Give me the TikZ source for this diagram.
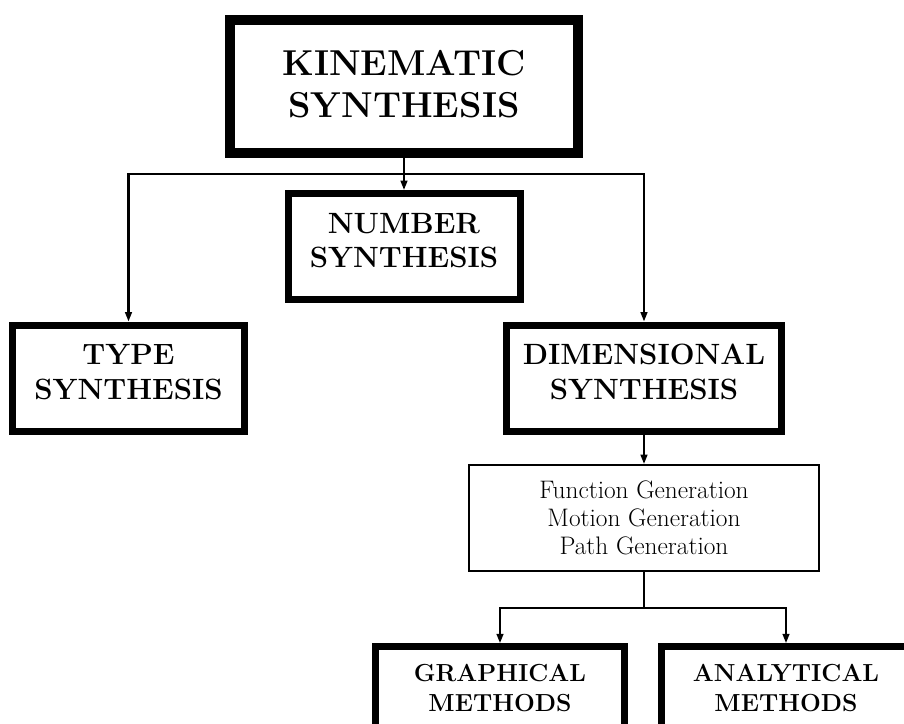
\documentclass[tikz,border=0pt]{standalone}
\usepackage{fontspec}
\usepackage{tikz}
\usetikzlibrary{arrows.meta, positioning, calc}

\begin{document}
\begin{tikzpicture}[
    x=0.75pt,
    y=-0.75pt,
    heading/.style={
      draw=black,
      line width=7.5pt,
      fill=white,
      align=center,
      minimum width=261pt,
      minimum height=99.75pt,
      text depth=4pt,
      font=\bfseries\fontsize{27}{32}\selectfont,
    },
    branch/.style={
      draw=black,
      line width=5.25pt,
      fill=white,
      align=center,
      minimum height=79.5pt,
      text depth=9pt,
      font=\bfseries\fontsize{22}{26}\selectfont,
    },
    listbox/.style={
      draw=black,
      line width=1.5pt,
      fill=white,
      align=center,
      minimum width=262.5pt,
      minimum height=79.5pt,
      font=\fontsize{19}{21}\selectfont,
    },
    method/.style={
      branch,
      minimum width=187pt,
      minimum height=62pt,
      text depth=0pt,
      font=\bfseries\fontsize{18.5}{22.5}\selectfont,
    },
    link/.style={
      line width=1.6pt,
      -{Triangle[length=7pt,width=5pt]},
    },
  ]
    \useasboundingbox (0,0) rectangle (904,724);
    \clip (0,0) rectangle (904,724);
    \fill[white] (0,0) rectangle (904,724);

    \node[heading] (kin) at (404,86.5) {KINEMATIC\\SYNTHESIS};
    \node[branch, minimum width=174pt] (num) at (404,246.5) {NUMBER\\SYNTHESIS};
    \node[branch, minimum width=174pt] (type) at (128.5,378) {TYPE\\SYNTHESIS};
    \node[branch, minimum width=206pt] (dim) at (644,378) {DIMENSIONAL\\SYNTHESIS};
    \node[listbox] (gen) at (644,518) {Function Generation\\Motion Generation\\Path Generation};
    \node[method] (graph) at (500,688) {GRAPHICAL\\METHODS};
    \node[method] (ana) at (786,688) {ANALYTICAL\\METHODS};

    \coordinate (split) at ($(kin.south)!0.5!(num.north)$);
    \coordinate (fork) at ($(gen.south)!0.5!(gen.south |- graph.north)$);

    \draw[link] (kin.south) -- (num.north);
    \draw[link] (split) -| (type.north);
    \draw[link] (split) -| (dim.north);
    \draw[link] (dim.south) -- (gen.north);
    \draw[line width=1.6pt] (gen.south) -- (fork);
    \draw[link] (fork) -| (graph.north);
    \draw[link] (fork) -| (ana.north);
  \end{tikzpicture}
\end{document}
